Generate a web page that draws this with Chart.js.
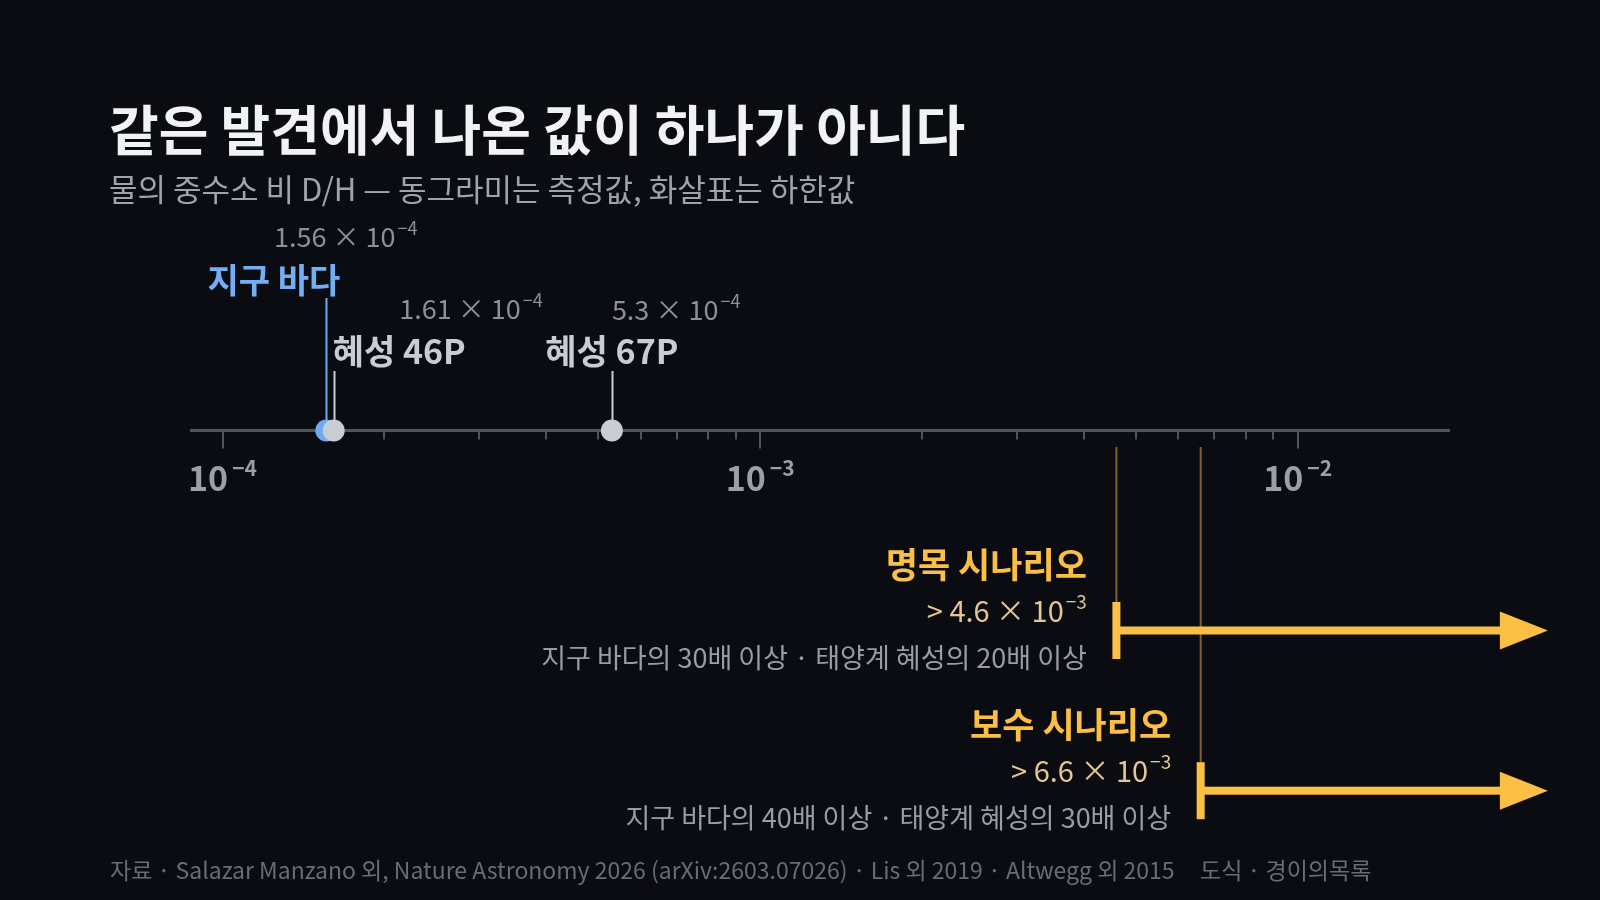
<!DOCTYPE html>
<html><head><meta charset="utf-8">
<script src="https://cdn.jsdelivr.net/npm/chart.js@4.4.1/dist/chart.umd.min.js"></script>
<style>html,body{margin:0;padding:0;background:#0b0c11;overflow:hidden}#wrap{width:1600px;height:900px;position:relative}canvas{display:block}</style>
</head><body>
<div id="wrap"><canvas id="c" width="1600" height="900"></canvas></div>
<script>
// ---------- data ----------
const titleText = '같은 발견에서 나온 값이 하나가 아니다';
const subtitleText = '물의 중수소 비 D/H — 동그라미는 측정값, 화살표는 하한값';
const sourceText = '자료 · Salazar Manzano 외, Nature Astronomy 2026 (arXiv:2603.07026) · Lis 외 2019 · Altwegg 외 2015';
const creditText = '도식 · 경이의목록';

const measuredNames = ['지구 바다', '혜성 46P', '혜성 67P'];
const measuredValues = [1.56e-4, 1.61e-4, 5.3e-4];
const measuredMantissa = ['1.56', '1.61', '5.3'];
const measuredExponent = ['−4', '−4', '−4'];

const scenarioNames = ['명목 시나리오', '보수 시나리오'];
const scenarioLowerBounds = [4.6e-3, 6.6e-3];
const scenarioMantissa = ['4.6', '6.6'];
const scenarioExponent = ['−3', '−3'];
const scenarioNotes = ['지구 바다의 30배 이상 · 태양계 혜성의 20배 이상', '지구 바다의 40배 이상 · 태양계 혜성의 30배 이상'];

const majorTicks = [1e-4, 1e-3, 1e-2];
const majorTickExponents = ['−4', '−3', '−2'];
const minorTicks = [2e-4, 3e-4, 4e-4, 5e-4, 6e-4, 7e-4, 8e-4, 9e-4, 2e-3, 3e-3, 4e-3, 5e-3, 6e-3, 7e-3, 8e-3, 9e-3];
const axisRange = [8.7e-5, 0.0192];
const arrowTipValue = 0.0292;

// ---------- styles ----------
const FONT = '"Noto Sans CJK KR", "Noto Sans KR", "Noto Sans", sans-serif';
const C = {
  title: '#f1f2f5', subtitle: '#9ea3af', value: '#8b909c', comet: '#c9ccd4', earth: '#6ea9f2',
  earthText: '#74aef5', axis: '#50545e', tick: '#9a9fab', gold: '#fbbf45', goldValue: '#e4c690',
  guide: '#7c6129', note: '#979ca8', footer: '#676c79'
};
const AXIS_Y = 430.5;
const labelStyle = [
  { color: C.earthText, stem: C.earth, fill: C.earth, anchor: 'right', dx: 14, labelBase: 293, valueBase: 247, stemTop: 298 },
  { color: C.comet, stem: C.comet, fill: '#c8ccd5', anchor: 'left', dx: -1, labelBase: 364, valueBase: 319, stemTop: 371 },
  { color: C.comet, stem: C.comet, fill: '#c8ccd5', anchor: 'center', dx: 0, labelBase: 364, valueBase: 320, stemTop: 371 }
];
const arrowRows = [630.5, 790.7];

function sci(ctx, x, y, prefix, mant, exp, align, mainFont, supFont, raise, gap) {
  ctx.font = mainFont;
  const main = prefix + mant + ' × 10';
  const mw = ctx.measureText(main).width;
  ctx.font = supFont;
  const sw = ctx.measureText(exp).width;
  const total = mw + gap + sw;
  let x0 = x;
  if (align === 'right') x0 = x - total;
  else if (align === 'center') x0 = x - total / 2;
  ctx.textAlign = 'left';
  ctx.font = mainFont;
  ctx.fillText(main, x0, y);
  ctx.font = supFont;
  ctx.fillText(exp, x0 + mw + gap, y - raise);
}

const annotate = {
  id: 'annotate',
  beforeDatasetsDraw(chart) {
    const ctx = chart.ctx, xs = chart.scales.x;
    ctx.save();
    // axis line
    ctx.strokeStyle = C.axis; ctx.lineWidth = 3;
    ctx.beginPath();
    ctx.moveTo(xs.getPixelForValue(axisRange[0]), AXIS_Y);
    ctx.lineTo(xs.getPixelForValue(axisRange[1]), AXIS_Y);
    ctx.stroke();
    ctx.lineWidth = 2;
    majorTicks.forEach(v => {
      const px = Math.round(xs.getPixelForValue(v));
      ctx.beginPath(); ctx.moveTo(px, AXIS_Y); ctx.lineTo(px, AXIS_Y + 18); ctx.stroke();
    });
    minorTicks.forEach(v => {
      const px = Math.round(xs.getPixelForValue(v));
      ctx.beginPath(); ctx.moveTo(px, AXIS_Y); ctx.lineTo(px, AXIS_Y + 9); ctx.stroke();
    });
    // tick labels
    ctx.fillStyle = C.tick; ctx.textBaseline = 'alphabetic';
    majorTicks.forEach((v, i) => {
      const px = xs.getPixelForValue(v);
      ctx.font = 'bold 34px ' + FONT;
      const mw = ctx.measureText('10').width;
      ctx.font = 'bold 21px ' + FONT;
      const sw = ctx.measureText(majorTickExponents[i]).width;
      const x0 = px - (mw + 4 + sw) / 2;
      ctx.font = 'bold 34px ' + FONT; ctx.textAlign = 'left';
      ctx.fillText('10', x0, 491);
      ctx.font = 'bold 21px ' + FONT;
      ctx.fillText(majorTickExponents[i], x0 + mw + 4, 476);
    });
    // stems
    measuredValues.forEach((v, i) => {
      const px = Math.round(xs.getPixelForValue(v)) + 0.5;
      ctx.strokeStyle = labelStyle[i].stem; ctx.lineWidth = 2;
      ctx.beginPath(); ctx.moveTo(px, labelStyle[i].stemTop); ctx.lineTo(px, AXIS_Y - 8); ctx.stroke();
    });
    // scenario guides
    scenarioLowerBounds.forEach((v, i) => {
      const px = xs.getPixelForValue(v);
      const ay = arrowRows[i];
      ctx.strokeStyle = C.guide; ctx.lineWidth = 2;
      ctx.beginPath(); ctx.moveTo(px, 447); ctx.lineTo(px, ay - 28.5); ctx.stroke();
    });
    ctx.restore();
  },
  afterDatasetsDraw(chart) {
    const ctx = chart.ctx, xs = chart.scales.x;
    ctx.save();
    ctx.textBaseline = 'alphabetic';
    // arrows
    scenarioLowerBounds.forEach((v, i) => {
      const px = xs.getPixelForValue(v);
      const tip = xs.getPixelForValue(arrowTipValue);
      const ay = arrowRows[i];
      ctx.fillStyle = C.gold;
      ctx.fillRect(px - 4, ay - 28.5, 8, 57);
      ctx.fillRect(px, ay - 4, tip - 48 - px + 1, 8);
      ctx.beginPath();
      ctx.moveTo(tip - 48, ay - 19); ctx.lineTo(tip, ay); ctx.lineTo(tip - 48, ay + 19); ctx.closePath(); ctx.fill();
      // labels
      const rx = px - 29.5;
      ctx.textAlign = 'right';
      ctx.fillStyle = C.gold; ctx.font = 'bold 35px ' + FONT;
      ctx.fillText(scenarioNames[i], rx, ay - 53);
      ctx.fillStyle = C.goldValue;
      sci(ctx, rx, ay - 8.5, '> ', scenarioMantissa[i], scenarioExponent[i], 'right', '29px ' + FONT, '19px ' + FONT, 13, 2);
      ctx.textAlign = 'right';
      ctx.fillStyle = C.note; ctx.font = '27px ' + FONT;
      ctx.fillText(scenarioNotes[i], rx, ay + 37.5);
    });
    // measured labels
    measuredValues.forEach((v, i) => {
      const st = labelStyle[i];
      const px = xs.getPixelForValue(v);
      ctx.font = 'bold 34px ' + FONT;
      const w = ctx.measureText(measuredNames[i]).width;
      let left = px + st.dx;
      if (st.anchor === 'right') left = px + st.dx - w;
      else if (st.anchor === 'center') left = px - w / 2;
      ctx.fillStyle = st.color; ctx.textAlign = 'left';
      ctx.fillText(measuredNames[i], left, st.labelBase);
      ctx.fillStyle = C.value;
      sci(ctx, left + w / 2, st.valueBase, '', measuredMantissa[i], measuredExponent[i], 'left', '27px ' + FONT, '18px ' + FONT, 12, 2);
    });
    // title, subtitle, footer
    ctx.textAlign = 'left';
    ctx.fillStyle = C.title; ctx.font = 'bold 54px ' + FONT;
    ctx.fillText(titleText, 109, 151);
    ctx.fillStyle = C.subtitle; ctx.font = '31px ' + FONT;
    ctx.fillText(subtitleText, 109, 201);
    ctx.fillStyle = C.footer; ctx.font = '23px ' + FONT;
    ctx.fillText(sourceText, 110, 879);
    ctx.fillText(creditText, 1200, 879);
    ctx.restore();
  }
};

function build() {
  new Chart(document.getElementById('c'), {
    type: 'scatter',
    data: {
      labels: measuredNames,
      datasets: [{
        data: measuredValues.map(v => ({ x: v, y: 0 })),
        backgroundColor: labelStyle.map(s => s.fill),
        borderWidth: 0,
        pointRadius: 11,
        pointHoverRadius: 11
      }]
    },
    options: {
      responsive: false, animation: false, devicePixelRatio: 1,
      layout: { padding: { left: 190, right: 150, top: 230, bottom: 269 } },
      plugins: { legend: { display: false }, tooltip: { enabled: false } },
      events: [],
      scales: {
        x: { type: 'logarithmic', min: axisRange[0], max: axisRange[1], display: false },
        y: { type: 'linear', min: -1, max: 1, display: false }
      }
    },
    plugins: [annotate]
  });
}
const fontsToLoad = ['bold 32px "Noto Sans CJK KR"', '26px "Noto Sans CJK KR"'];
Promise.all(fontsToLoad.map(f => document.fonts.load(f, '가1'))).then(build, build);
</script>
</body></html>
